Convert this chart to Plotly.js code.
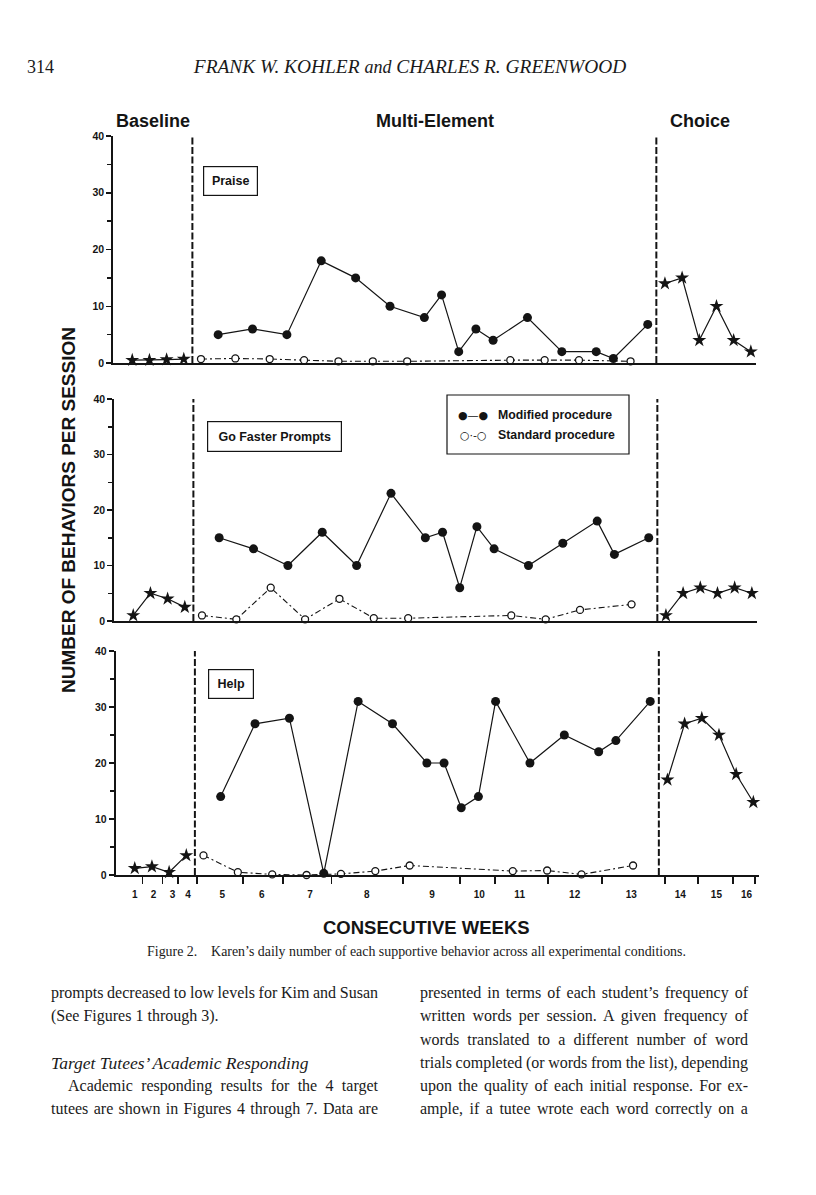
<!DOCTYPE html>
<html>
<head>
<meta charset="utf-8">
<script src="https://cdn.plot.ly/plotly-3.0.1.min.js"></script>
<style>
  body { margin: 0; background: #ffffff; }
  #page { position: relative; width: 816px; height: 1195px; overflow: hidden; background: #fff; }
  #chart { position: absolute; left: 0; top: 0; width: 816px; height: 1195px; }
  .t { position: absolute; z-index: 2; font-family: 'Liberation Serif', 'Times New Roman', serif; color: #1a1a1a; white-space: nowrap; line-height: 20px; }
  .b { font-size: 16px; }
</style>
</head>
<body>
<div id="page">
  <div id="chart"></div>

  <div class="t" style="left:27px; top:57px; font-size:18px;">314</div>
  <div class="t" style="left:0; width:820px; text-align:center; top:57px; font-size:19.4px; font-style:italic;">FRANK W. KOHLER <span style="font-size:18px">and</span> CHARLES R. GREENWOOD</div>

  <div class="t" style="left:0; width:833px; text-align:center; top:942px; font-size:13.9px;">Figure 2.&nbsp;&nbsp;&nbsp; Karen’s daily number of each supportive behavior across all experimental conditions.</div>

  <div class="t b j" data-w="327" style="left:51px; top:983px;">prompts decreased to low levels for Kim and Susan</div>
  <div class="t b" style="left:51px; top:1006px;">(See Figures 1 through 3).</div>
  <div class="t" style="left:51px; top:1053px; font-size:17.5px; font-style:italic;">Target Tutees’ Academic Responding</div>
  <div class="t b j" data-w="310" style="left:68px; top:1076px;">Academic responding results for the 4 target</div>
  <div class="t b j" data-w="327" style="left:51px; top:1099px;">tutees are shown in Figures 4 through 7. Data are</div>

  <div class="t b j" data-w="328" style="left:420px; top:983px;">presented in terms of each student’s frequency of</div>
  <div class="t b j" data-w="328" style="left:420px; top:1006px;">written words per session. A given frequency of</div>
  <div class="t b j" data-w="328" style="left:420px; top:1030px;">words translated to a different number of word</div>
  <div class="t b j" data-w="328" style="left:420px; top:1053px;">trials completed (or words from the list), depending</div>
  <div class="t b j" data-w="328" style="left:420px; top:1076px;">upon the quality of each initial response. For ex-</div>
  <div class="t b j" data-w="328" style="left:420px; top:1099px;">ample, if a tutee wrote each word correctly on a</div>
</div>

<script>
// justify single lines by word spacing
document.querySelectorAll('.j').forEach(el => {
  const target = parseFloat(el.dataset.w);
  el.style.wordSpacing = '0px';
  const natural = el.getBoundingClientRect().width;
  const spaces = (el.textContent.match(/ /g) || []).length;
  if (spaces > 0) el.style.wordSpacing = ((target - natural) / spaces).toFixed(2) + 'px';
});

// ---------------- DATA ----------------
const daysBaseline = [1, 2, 3, 4];
const daysModified = [6, 8, 10, 12, 14, 16, 18, 19, 20, 21, 22, 24, 26, 28, 29, 31];
const daysStandard = [5, 7, 9, 11, 13, 15, 17, 23, 25, 27, 30];
const daysChoice = [32, 33, 34, 35, 36, 37];

const praiseBaseline = [0.5, 0.5, 0.6, 0.7];
const praiseModified = [5, 6, 5, 18, 15, 10, 8, 12, 2, 6, 4, 8, 2, 2, 0.8, 6.8];
const praiseStandard = [0.7, 0.8, 0.7, 0.5, 0.3, 0.3, 0.3, 0.5, 0.5, 0.5, 0.3];
const praiseChoice = [14, 15, 4, 10, 4, 2];

const fasterBaseline = [1, 5, 4, 2.5];
const fasterModified = [15, 13, 10, 16, 10, 23, 15, 16, 6, 17, 13, 10, 14, 18, 12, 15];
const fasterStandard = [1, 0.3, 6, 0.3, 4, 0.5, 0.5, 1, 0.3, 2, 3];
const fasterChoice = [1, 5, 6, 5, 6, 5];

const helpBaseline = [1.2, 1.5, 0.5, 3.5];
const helpModified = [14, 27, 28, 0.3, 31, 27, 20, 20, 12, 14, 31, 20, 25, 22, 24, 31];
const helpStandard = [3.5, 0.5, 0.1, 0, 0.2, 0.7, 1.7, 0.7, 0.8, 0.1, 1.7];
const helpChoice = [17, 27, 28, 25, 18, 13];

const phaseChangeDays = [4.5, 31.5];

const weekLabels = ['1','2','3','4','5','6','7','8','9','10','11','12','13','14','15','16'];
const weekLabelDays = [1, 2.1, 3.2, 4.1, 6.1, 8.4, 11.2, 14.5, 18.3, 21.05, 23.4, 26.6, 29.9, 32.75, 34.85, 36.6];
const weekBoundaryDays = [1.45, 2.62, 3.53, 4.63, 7.31, 9.64, 12.46, 16.62, 19.92, 21.96, 25.06, 28.2, 31.85, 33.79, 35.8, 37.1];

const yTickVals = [0, 10, 20, 30, 40];
const panelNames = ['Praise', 'Go Faster Prompts', 'Help'];
const phaseNames = ['Baseline', 'Multi-Element', 'Choice'];
const legendNames = ['Modified procedure', 'Standard procedure'];

// ---------------- LAYOUT HELPERS ----------------
const W = 816, H = 1195;
const px = v => v / W;
const py = v => 1 - v / H;
const INK = '#141414';
const SANS = 'Liberation Sans, Arial, Helvetica, sans-serif';

const xDomains = [
  [px(113), px(756)],
  [px(114), px(757)],
  [px(115.5), px(758.5)]
];
const xRange = [-0.12, 37.3];
const yDomains = [
  [py(363), py(136)],
  [py(621), py(399)],
  [py(875), py(651)]
];

const panels = [
  [praiseBaseline, praiseModified, praiseStandard, praiseChoice],
  [fasterBaseline, fasterModified, fasterStandard, fasterChoice],
  [helpBaseline, helpModified, helpStandard, helpChoice]
];

const traces = [];
panels.forEach((p, i) => {
  const xa = i === 0 ? 'x' : 'x' + (i + 1);
  const ya = i === 0 ? 'y' : 'y' + (i + 1);
  const common = { xaxis: xa, yaxis: ya, cliponaxis: false, hoverinfo: 'skip' };
  traces.push(Object.assign({
    x: daysBaseline, y: p[0], mode: 'lines+markers', name: 'Baseline',
    line: { color: INK, width: 1.2 },
    marker: { symbol: 'star', size: 10.5, color: INK }
  }, common));
  traces.push(Object.assign({
    x: daysStandard, y: p[2], mode: 'lines+markers', name: legendNames[1],
    line: { color: INK, width: 1.1, dash: '6px,3px,2px,3px' },
    marker: { symbol: 'circle', size: 7, color: '#ffffff', line: { color: INK, width: 1.3 } }
  }, common));
  traces.push(Object.assign({
    x: daysModified, y: p[1], mode: 'lines+markers', name: legendNames[0],
    line: { color: INK, width: 1.2 },
    marker: { symbol: 'circle', size: 9, color: INK }
  }, common));
  traces.push(Object.assign({
    x: daysChoice, y: p[3], mode: 'lines+markers', name: 'Choice',
    line: { color: INK, width: 1.2 },
    marker: { symbol: 'star', size: 10.5, color: INK }
  }, common));
});

const layout = {
  width: W, height: H,
  margin: { l: 0, r: 0, t: 0, b: 0 },
  paper_bgcolor: '#ffffff', plot_bgcolor: 'rgba(0,0,0,0)',
  showlegend: false,
  font: { family: SANS, color: INK },
  shapes: [], annotations: []
};

for (let i = 0; i < 3; i++) {
  const xk = i === 0 ? 'xaxis' : 'xaxis' + (i + 1);
  const yk = i === 0 ? 'yaxis' : 'yaxis' + (i + 1);
  const ya = i === 0 ? 'y' : 'y' + (i + 1);
  const xa = i === 0 ? 'x' : 'x' + (i + 1);
  const isBottom = i === 2;
  layout[xk] = {
    domain: xDomains[i], range: xRange, anchor: ya,
    showline: true, linecolor: INK, linewidth: 2,
    showgrid: false, zeroline: false, fixedrange: true,
    ticks: '', showticklabels: isBottom
  };
  if (isBottom) {
    Object.assign(layout[xk], {
      tickmode: 'array', tickvals: weekLabelDays, ticktext: weekLabels,
      ticklabelstandoff: 9,
      tickfont: { family: SANS, size: 10, weight: 'bold', color: INK },
      minor: { tickmode: 'array', tickvals: weekBoundaryDays, ticks: 'outside', ticklen: 7, tickwidth: 1.6, tickcolor: INK }
    });
  }
  layout[yk] = {
    domain: yDomains[i], range: [0, 40], anchor: xa,
    showline: true, linecolor: INK, linewidth: 1.8,
    showgrid: false, zeroline: false, fixedrange: true,
    tickmode: 'array', tickvals: yTickVals, ticks: 'outside', ticklen: 5, tickwidth: 1.5, tickcolor: INK,
    tickfont: { family: SANS, size: 10.5, weight: 'bold', color: INK },
    minor: { dtick: 5, tick0: 0, ticks: 'outside', ticklen: 4, tickwidth: 1.5, tickcolor: INK }
  };
  phaseChangeDays.forEach(d => {
    layout.shapes.push({
      type: 'line', xref: xa, yref: ya, x0: d, x1: d, y0: 0, y1: 40,
      line: { color: INK, width: 2, dash: '7px,2.5px' }
    });
  });
}

// Panel name boxes
const boxSpecs = [
  { cx: 230.5, cy: 181, w: 55, h: 30 },
  { cx: 274.5, cy: 436, w: 135, h: 31 },
  { cx: 230.5, cy: 683.5, w: 46, h: 30 }
];
panelNames.forEach((name, i) => {
  const b = boxSpecs[i];
  layout.annotations.push({
    xref: 'paper', yref: 'paper', x: px(b.cx), y: py(b.cy),
    xanchor: 'center', yanchor: 'middle', showarrow: false,
    text: name, width: b.w - 2, height: b.h - 2, borderpad: 0,
    bordercolor: INK, borderwidth: 1.2, bgcolor: '#ffffff',
    font: { family: SANS, size: 12.5, weight: 'bold', color: INK }
  });
});

// Phase headings
const phaseX = [153, 435, 700];
phaseNames.forEach((name, i) => {
  layout.annotations.push({
    xref: 'paper', yref: 'paper', x: px(phaseX[i]), y: py(121),
    xanchor: 'center', yanchor: 'middle', showarrow: false,
    text: name, font: { family: SANS, size: 18, weight: 'bold', color: INK }
  });
});

// Legend box
layout.shapes.push({
  type: 'rect', xref: 'paper', yref: 'paper',
  x0: px(447), x1: px(629), y0: py(454), y1: py(395),
  line: { color: INK, width: 1.2 }, fillcolor: 'rgba(0,0,0,0)'
});
const legendSymbols = ['●—●', '○·-○'];
const legendY = [415, 435];
legendNames.forEach((name, i) => {
  layout.annotations.push({
    xref: 'paper', yref: 'paper', x: px(473), y: py(legendY[i]),
    xanchor: 'center', yanchor: 'middle', showarrow: false,
    text: legendSymbols[i], font: { family: 'DejaVu Sans, sans-serif', size: 11, color: INK }
  });
  layout.annotations.push({
    xref: 'paper', yref: 'paper', x: px(496), y: py(legendY[i]),
    xanchor: 'left', yanchor: 'middle', showarrow: false,
    text: name, font: { family: SANS, size: 12.3, weight: 'bold', color: INK }
  });
});

// Axis titles
layout.annotations.push({
  xref: 'paper', yref: 'paper', x: px(68), y: py(510),
  xanchor: 'center', yanchor: 'middle', showarrow: false, textangle: -90,
  text: 'NUMBER OF BEHAVIORS PER SESSION',
  font: { family: SANS, size: 19, weight: 'bold', color: INK }
});
layout.annotations.push({
  xref: 'paper', yref: 'paper', x: px(426), y: py(927),
  xanchor: 'center', yanchor: 'middle', showarrow: false,
  text: 'CONSECUTIVE WEEKS',
  font: { family: SANS, size: 18.5, weight: 'bold', color: INK }
});

Plotly.newPlot('chart', traces, layout, { staticPlot: true, displayModeBar: false });
</script>
</body>
</html>
